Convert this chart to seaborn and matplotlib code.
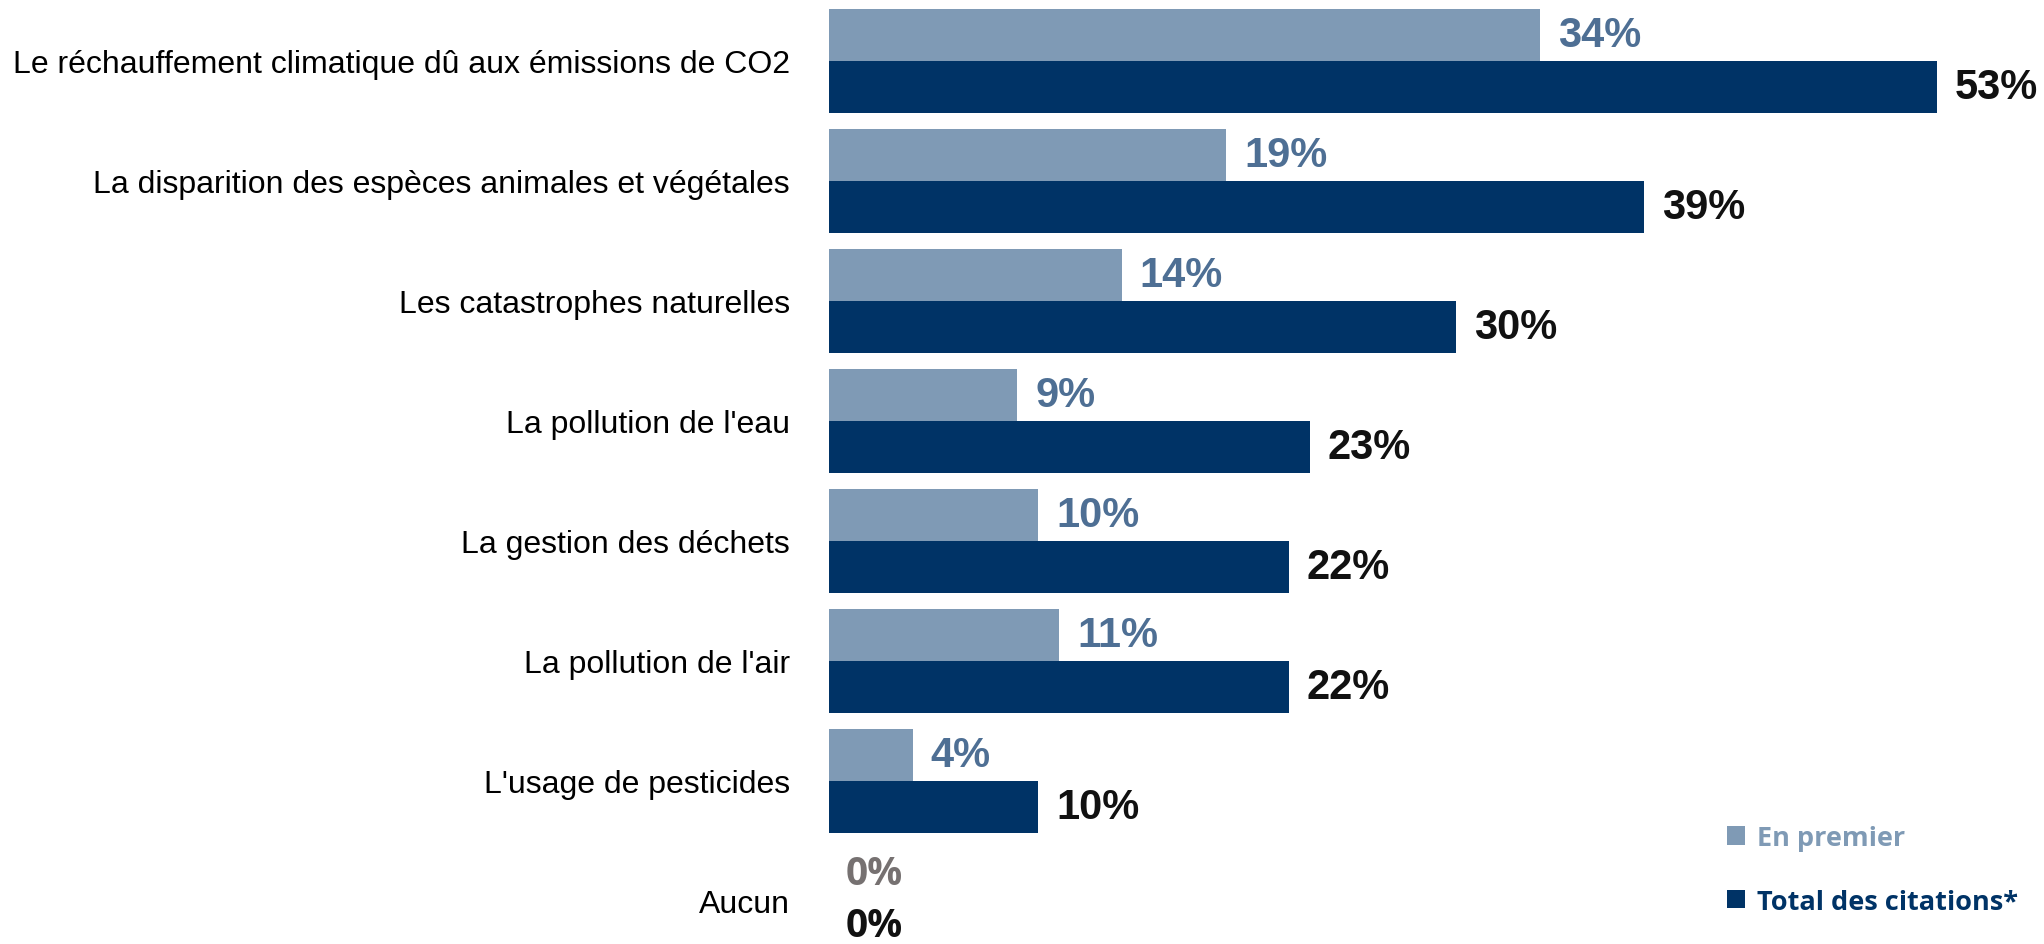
import matplotlib
matplotlib.use("Agg")
import matplotlib.pyplot as plt
import seaborn as sns
import pandas as pd

categories = [
    "Le réchauffement climatique dû aux émissions de CO2",
    "La disparition des espèces animales et végétales",
    "Les catastrophes naturelles",
    "La pollution de l'eau",
    "La gestion des déchets",
    "La pollution de l'air",
    "L'usage de pesticides",
    "Aucun",
]
en_premier = [34, 19, 14, 9, 10, 11, 4, 0]
total_citations = [53, 39, 30, 23, 22, 22, 10, 0]
series_names = ["En premier", "Total des citations*"]

light_bar = "#7F9AB5"
dark_bar = "#003366"
light_label = "#4E6F94"
dark_label = "#111111"
grey_label = "#767171"

df = pd.DataFrame({
    "categorie": categories * 2,
    "serie": [series_names[0]] * len(categories) + [series_names[1]] * len(categories),
    "valeur": en_premier + total_citations,
})

sns.set_theme(style="white")
plt.rcParams["font.family"] = ["Liberation Sans", "DejaVu Sans"]

W, H = 2044, 945
fig = plt.figure(figsize=(W / 100, H / 100), dpi=100)
left_px = 829
ax = fig.add_axes([left_px / W, 0, 1 - left_px / W, 1])

sns.barplot(data=df, y="categorie", x="valeur", hue="serie", hue_order=series_names,
            order=categories, orient="h", palette=[light_bar, dark_bar],
            width=0.867, ax=ax, saturation=1, legend=True, edgecolor="none", linewidth=0)

px_per_unit = 20.9
ax.set_xlim(0, (W - left_px) / px_per_unit)
pitch = 120.0
ax.set_ylim(7.5 - 17 / pitch, -0.5 - 2 / pitch)

for side in ["top", "right", "bottom", "left"]:
    ax.spines[side].set_visible(False)
ax.set_xticks([])
ax.set_xlabel("")
ax.set_ylabel("")
ax.tick_params(axis="y", length=0, pad=28, labelsize=23, labelcolor="black")
ax.grid(False)

for ci, cont in enumerate(ax.containers):
    for i, patch in enumerate(cont.patches):
        val = patch.get_width()
        yc = patch.get_y() + patch.get_height() / 2
        is_none = categories[i] == "Aucun"
        if ci == 0:
            col = grey_label if is_none else light_label
        else:
            col = dark_label
        if is_none:
            fam, size, off, dy = ["Open Sans", "DejaVu Sans"], 28, 12, 1
        else:
            fam, size, off, dy = ["Liberation Sans", "DejaVu Sans"], 30, 13, 0
        ax.annotate(f"{val:.0f}%", xy=(val, yc), xytext=(off, dy), textcoords="offset points",
                    ha="left", va="center", fontsize=size, fontweight="bold", color=col,
                    family=fam)

leg = ax.legend(loc="upper left", bbox_to_anchor=((1727 - left_px) / (W - left_px), 1 - 826 / H),
                frameon=False, handlelength=0.65, handleheight=0.65, handletextpad=0.45,
                labelspacing=1.4, prop={"family": ["Open Sans", "DejaVu Sans"], "weight": "bold", "size": 19.5},
                borderaxespad=0, borderpad=0)
for txt, col in zip(leg.get_texts(), [light_bar, dark_bar]):
    txt.set_color(col)

fig.savefig("out.png", dpi=100, facecolor="white")
